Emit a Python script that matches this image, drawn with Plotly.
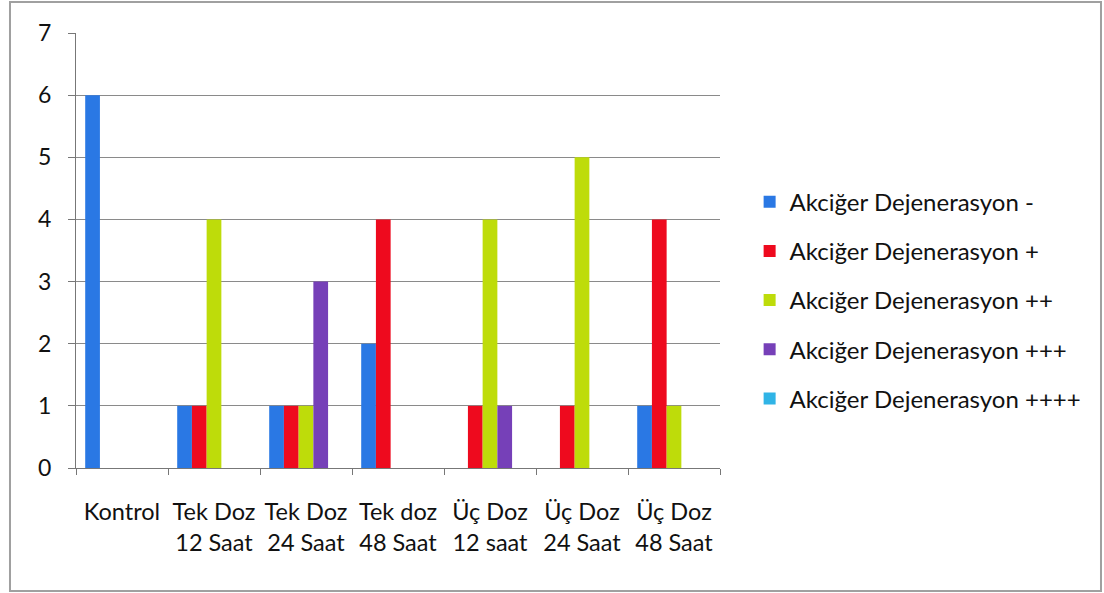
import plotly.graph_objects as go

categories = ["Kontrol", "Tek Doz<br>12 Saat", "Tek Doz<br>24 Saat", "Tek doz<br>48 Saat",
              "Üç Doz<br>12 saat", "Üç Doz<br>24 Saat", "Üç Doz<br>48 Saat"]

series_names = ["Akciğer Dejenerasyon -", "Akciğer Dejenerasyon +", "Akciğer Dejenerasyon ++",
                "Akciğer Dejenerasyon +++", "Akciğer Dejenerasyon ++++"]

deg_minus = [6, 1, 1, 2, 0, 0, 1]
deg_plus = [0, 1, 1, 4, 1, 1, 4]
deg_2plus = [0, 4, 1, 0, 4, 5, 1]
deg_3plus = [0, 0, 3, 0, 1, 0, 0]
deg_4plus = [0, 0, 0, 0, 0, 0, 0]

colors = ["#2A78E4", "#EE0A1E", "#BEDC0A", "#7640B8", "#30B4E6"]

FONT = "Lato"

fig = go.Figure()
for i, (name, vals, col) in enumerate(zip(series_names,
                                          [deg_minus, deg_plus, deg_2plus, deg_3plus, deg_4plus],
                                          colors)):
    fig.add_trace(go.Bar(x=categories, y=vals, name=name, legendgroup=f"g{i}",
                         marker=dict(color=col, line=dict(width=0))))

fig.update_layout(
    width=1104, height=593,
    margin=dict(l=76, r=384, t=33, b=125),
    paper_bgcolor="white", plot_bgcolor="white",
    barmode="group", bargap=0.2, bargroupgap=0,
    font=dict(family=FONT, size=24, color="#111"),
    showlegend=True,
    legend=dict(x=1.046, xanchor="left", xref="paper", y=0.386, yanchor="middle",
                font=dict(family=FONT, size=24, color="#111"),
                itemsizing="constant", tracegroupgap=15, itemwidth=30,
                bgcolor="rgba(0,0,0,0)", borderwidth=0),
    xaxis=dict(type="category", showgrid=False, showline=True, linecolor="#777", linewidth=1,
               ticks="outside", tickson="boundaries", ticklen=6, tickcolor="#777",
               ticklabelstandoff=23, tickangle=0, automargin=False,
               tickfont=dict(family=FONT, size=23.5, color="#111")),
    yaxis=dict(range=[0, 7], dtick=1, showgrid=True, gridcolor="#8a8a8a", gridwidth=1,
               showline=True, linecolor="#777", linewidth=1, ticks="outside", ticklen=7,
               tickcolor="#777", zeroline=False, ticklabelstandoff=12, automargin=False,
               tickfont=dict(family=FONT, size=23, color="#111")),
    shapes=[dict(type="rect", xref="paper", yref="paper", x0=-0.1025, x1=1.5916, y0=1.0713, y1=-0.2828,
                 line=dict(color="#a0a0a0", width=2))],
)

fig.write_html("out.html")
